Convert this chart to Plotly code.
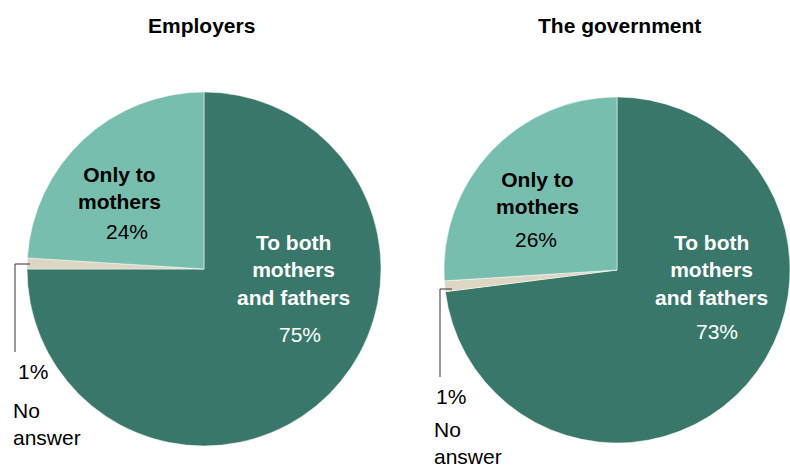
import plotly.graph_objects as go

# Survey answers: who should provide paid leave
categories = ["To both mothers and fathers", "No answer", "Only to mothers"]
employers = [75, 1, 24]
government = [73, 1, 26]
titles = ["Employers", "The government"]

colors = ["#38776A", "#DCD6C2", "#77BEAE"]

W, H = 790, 470


def px(x):
    return x / W


def py(y):
    return 1 - y / H


fig = go.Figure()

# Left pie: centre (204, 269), radius ~177 px
fig.add_trace(go.Pie(
    labels=categories, values=employers, sort=False, direction="clockwise",
    rotation=0, textinfo="none", hoverinfo="label+percent",
    marker=dict(colors=colors, line=dict(color="white", width=0.5)),
    domain=dict(x=[px(27), px(381)], y=[py(446), py(92)]),
    showlegend=False,
))

# Right pie: runs to the right edge of the canvas
fig.add_trace(go.Pie(
    labels=categories, values=government, sort=False, direction="clockwise",
    rotation=0, textinfo="none", hoverinfo="label+percent",
    marker=dict(colors=colors, line=dict(color="white", width=0.5)),
    domain=dict(x=[px(444), 1], y=[py(443), py(97)]),
    showlegend=False,
))

BOLD = dict(family="Liberation Sans", size=21, color="black", weight="bold")
REG = dict(family="Liberation Sans", size=21, color="black")


def note(text, x, y, font, xanchor="center", color=None):
    f = dict(font)
    if color:
        f["color"] = color
    fig.add_annotation(text=text, x=px(x), y=py(y), xref="paper", yref="paper",
                       xanchor=xanchor, yanchor="middle", showarrow=False,
                       font=f, align="center" if xanchor == "center" else "left")


# Titles
note(titles[0], 202, 25, BOLD)
note(titles[1], 619, 25, BOLD)

# Employers labels
note("Only to<br>mothers", 119, 188, BOLD)
note(f"{employers[2]}%", 127, 231, REG)
note("To both<br>mothers<br>and fathers", 293, 270, BOLD, color="white")
note(f"{employers[0]}%", 300, 334, REG, color="white")
note(f"{employers[1]}%", 16, 371, REG, xanchor="left")
note("No<br>answer", 11, 424, REG, xanchor="left")

# Government labels
note("Only to<br>mothers", 537, 193, BOLD)
note(f"{government[2]}%", 536, 240, REG)
note("To both<br>mothers<br>and fathers", 711, 270, BOLD, color="white")
note(f"{government[0]}%", 717, 331, REG, color="white")
note(f"{government[1]}%", 434, 396, REG, xanchor="left")
note("No<br>answer", 432, 443, REG, xanchor="left")

# Leader lines for the "No answer" slices
leader = dict(color="#333333", width=1)
for pts in ([(30, 264), (15, 264), (15, 352)],
            [(452, 289), (440, 289), (440, 377)]):
    for (x0, y0), (x1, y1) in zip(pts[:-1], pts[1:]):
        fig.add_shape(type="line", xref="paper", yref="paper",
                      x0=px(x0), y0=py(y0), x1=px(x1), y1=py(y1), line=leader)

fig.update_layout(
    width=W, height=H, margin=dict(l=0, r=0, t=0, b=0),
    paper_bgcolor="white", plot_bgcolor="white",
)

fig.write_html("out.html")
